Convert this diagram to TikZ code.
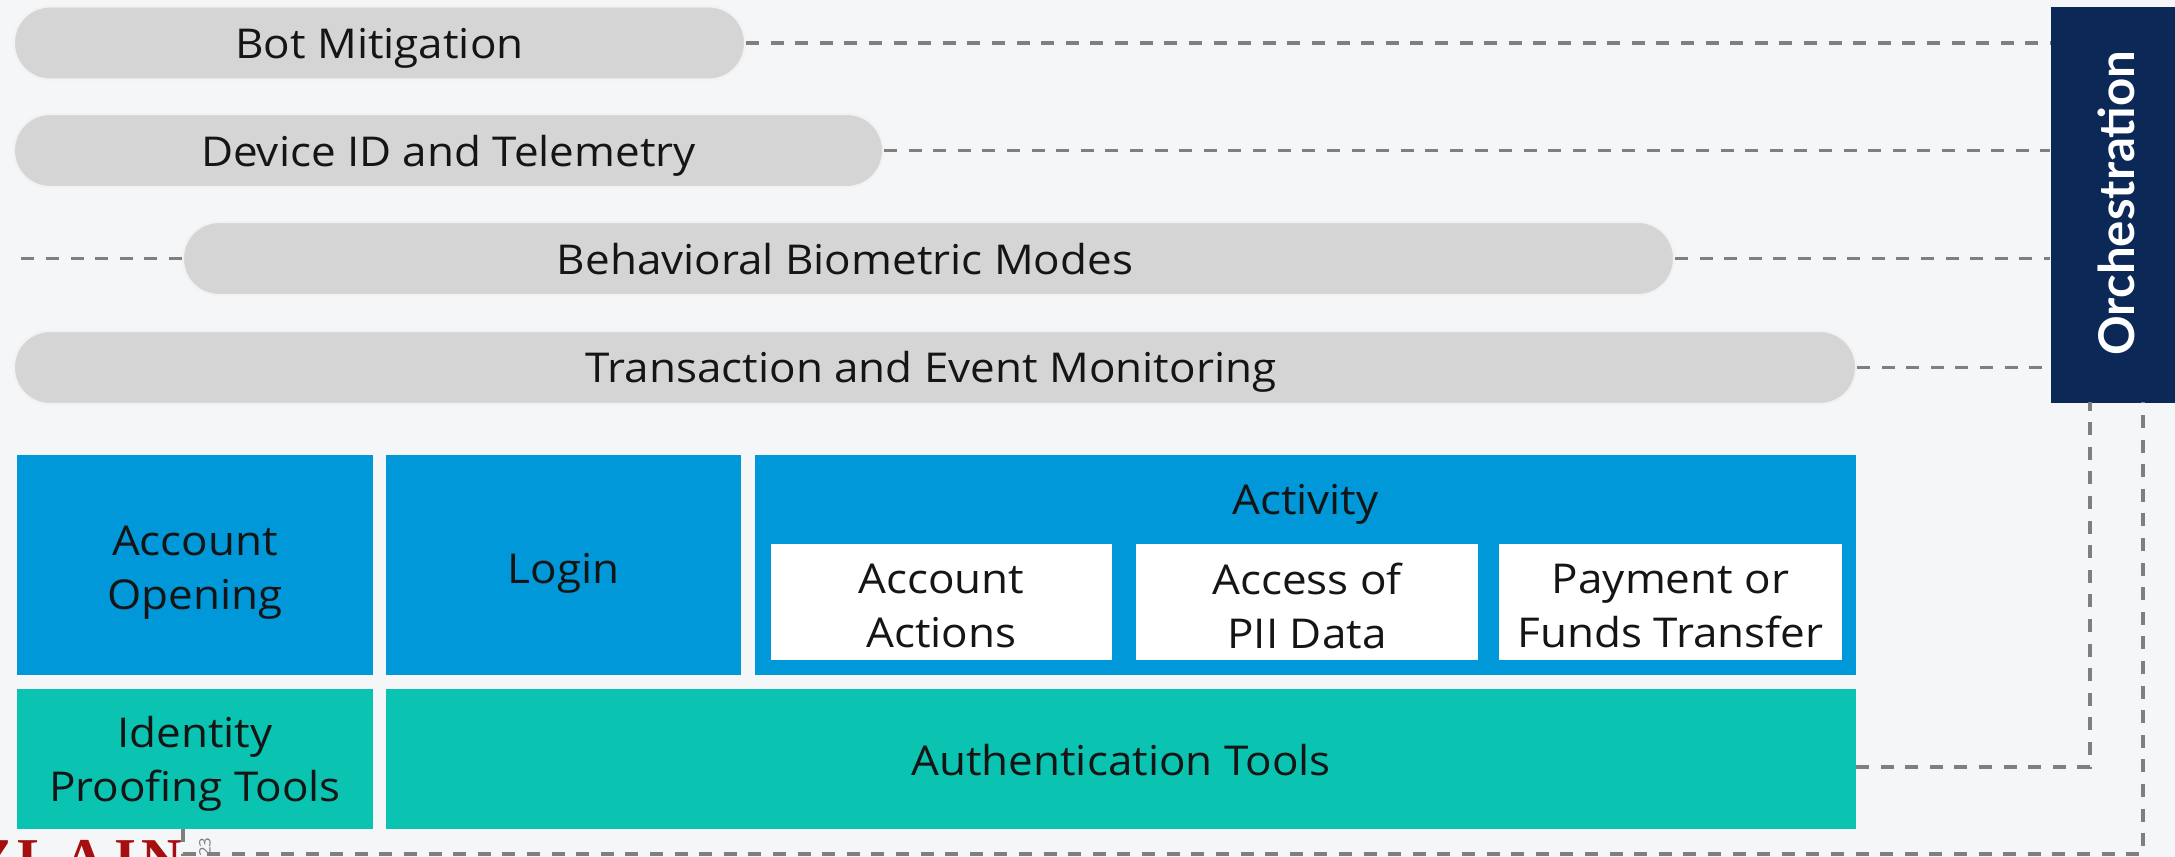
\documentclass[tikz,border=0pt]{standalone}
\usepackage{fontspec}
\setmainfont{Open Sans}[FakeStretch=1.07]
\newfontfamily\orchfont{Lato}
\newfontfamily\logofont{Liberation Serif}
\usetikzlibrary{calc}
\definecolor{bgc}{HTML}{F5F6F7}
\definecolor{pillgray}{HTML}{D5D5D5}
\definecolor{bluec}{HTML}{0098D8}
\definecolor{tealc}{HTML}{0AC3B0}
\definecolor{navyc}{HTML}{0B2857}
\definecolor{dashc}{HTML}{7F7F7F}
\definecolor{txtc}{HTML}{151515}
\definecolor{logored}{HTML}{A50F0F}
\newcommand\mainsz{\fontsize{11.7}{15.4}\selectfont}
\tikzset{
  pillbox/.style={fill=pillgray, draw=white!70!pillgray, line width=0.6pt, rounded corners=0.36cm, minimum height=0.73cm, inner sep=0pt},
  bluebox/.style={fill=bluec, minimum height=2.20cm, inner sep=0pt},
  subbox/.style={fill=white, minimum height=1.16cm, inner sep=0pt},
  tealbox/.style={fill=tealc, minimum height=1.40cm, inner sep=0pt},
  lbl/.style={font=\mainsz, text=txtc, inner sep=0pt, align=center},
  dsh/.style={draw=dashc, line width=0.9pt, dash pattern=on 3.7pt off 3.3pt},
  logo/.style={font=\logofont\bfseries\fontsize{16}{16}\selectfont, text=logored, inner sep=0pt, anchor=base}
}
\begin{document}
\begin{tikzpicture}
\useasboundingbox (0,0) rectangle (21.75,-8.57);
\fill[bgc] (0,0) rectangle (21.75,-8.57);

% orchestration
\node[fill=navyc, minimum width=1.30cm, minimum height=3.96cm, inner sep=0pt, anchor=north west] (orch) at (20.50,-0.06) {};
\node[rotate=90, text=white, inner sep=0pt, font=\orchfont\bfseries\fontsize{14}{14}\selectfont] (orchtxt) at (21.16,-2.03) {Orchestration};

% pills
\node[pillbox, minimum width=7.31cm] (bot) at (3.795,-0.43) {};
\node[pillbox, minimum width=8.69cm] (dev) at (4.485,-1.505) {};
\node[pillbox, minimum width=14.91cm] (bbm) at (9.285,-2.585) {};
\node[pillbox, minimum width=18.42cm] (tem) at (9.35,-3.675) {};
\node[lbl] (bottxt) at ($(bot.center)+(0,-0.05)$) {Bot Mitigation};
\node[lbl] (devtxt) at ($(dev.center)+(0,-0.05)$) {Device ID and Telemetry};
\node[lbl] (bbmtxt) at (8.45,-2.59) {Behavioral Biometric Modes};
\node[lbl] (temtxt) at ($(tem.center)+(-0.04,-0.04)$) {Transaction and Event Monitoring};

% blue row
\node[bluebox, minimum width=3.56cm] (aop) at (1.95,-5.65) {};
\node[bluebox, minimum width=3.55cm] (login) at (5.635,-5.65) {};
\node[bluebox, minimum width=11.01cm] (act) at (13.055,-5.65) {};
\node[subbox, minimum width=3.41cm] (aact) at (9.415,-6.02) {};
\node[subbox, minimum width=3.42cm] (pii) at (13.07,-6.02) {};
\node[subbox, minimum width=3.43cm] (pay) at (16.705,-6.02) {};
\node[lbl] (aoptxt) at ($(aop.center)+(0,-0.08)$) {Account\\Opening};
\node[lbl] (logintxt) at ($(login.center)+(0,-0.08)$) {Login};
\node[lbl] (acttxt) at (13.055,-5.04) {Activity};
\node[lbl] (aacttxt) at ($(aact.center)+(0,-0.04)$) {Account\\Actions};
\node[lbl] (piitxt) at ($(pii.center)+(0,-0.04)$) {Access of\\PII Data};
\node[lbl] (paytxt) at ($(pay.center)+(0,-0.04)$) {Payment or\\Funds Transfer};

% teal row
\node[tealbox, minimum width=3.56cm] (idp) at (1.95,-7.59) {};
\node[tealbox, minimum width=14.70cm] (auth) at (11.21,-7.59) {};
\node[lbl] (idptxt) at ($(idp.center)+(0,-0.05)$) {Identity\\Proofing Tools};
\node[lbl] (authtxt) at ($(auth.center)+(0,-0.01)$) {Authentication Tools};

% connectors
\coordinate (o1) at (20.90,-4.02);
\coordinate (o2) at (21.43,-4.02);
\coordinate (bl) at (0.14,-2.585);
\coordinate (ab) at (18.56,-7.67);
\coordinate (ib) at (1.83,-8.29);
\coordinate (bb) at (1.83,-8.54);
\draw[dsh] (bot.east) -- (bot.east -| orch.west);
\draw[dsh] (dev.east) -- (dev.east -| orch.west);
\draw[dsh] (bbm.east) -- (bbm.east -| orch.west);
\draw[dsh] (bbm.west) -- (bl);
\draw[dsh] (tem.east) -- (tem.east -| orch.west);
\draw[dsh] (ab) -| (o1);
\draw[dsh] (ib) -- (bb) -| (o2);

% logo fragment
\node[logo] (lz) at (-0.06,-8.77) {Z};
\node[logo] (ll) at (0.36,-8.77) {L};
\node[logo] (la) at (0.85,-8.77) {A};
\node[logo] (li) at (1.25,-8.77) {I};
\node[logo] (ln) at (1.62,-8.77) {N};
\node[rotate=90, text=dashc, inner sep=0pt, font=\fontsize{4.5}{4.5}\selectfont] (n23) at (2.05,-8.47) {23};
\end{tikzpicture}
\end{document}
